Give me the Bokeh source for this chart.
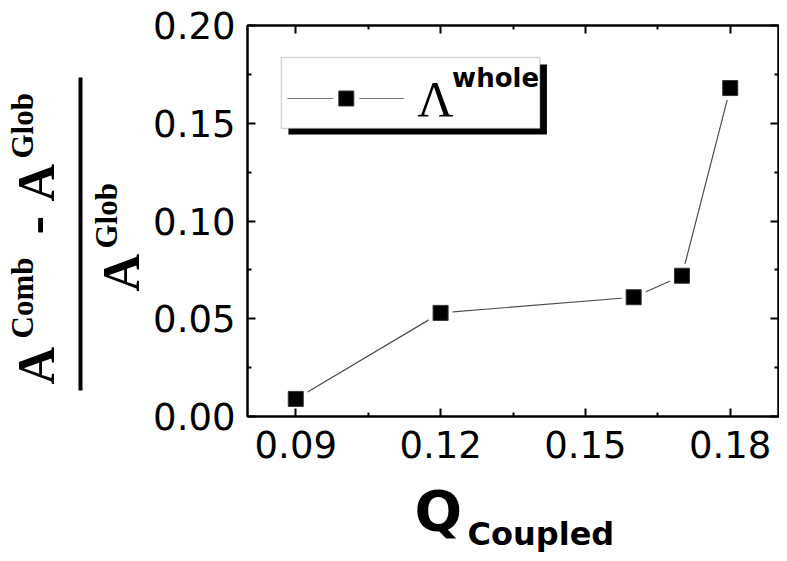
import math
from bokeh.plotting import figure
from bokeh.layouts import column, row
from bokeh.models import (FixedTicker, Label, BoxAnnotation, LinearAxis, Range1d,
                          NumeralTickFormatter)
from bokeh.embed import file_html
from bokeh.resources import INLINE

# ---- data ----
q_coupled = [0.09, 0.12, 0.16, 0.17, 0.18]
lambda_whole = [0.009, 0.053, 0.061, 0.072, 0.168]
x_major = [0.09, 0.12, 0.15, 0.18]
x_minor = [0.105, 0.135, 0.165]
x_labels = ["0.09", "0.12", "0.15", "0.18"]
y_major = [0.0, 0.05, 0.10, 0.15, 0.20]
y_minor = [0.025, 0.075, 0.125, 0.175]
y_labels = ["0.00", "0.05", "0.10", "0.15", "0.20"]

X0, X1 = 0.08, 0.19
Y0, Y1 = 0.0, 0.20

TOTAL_W = 779
LEFT_W = 150          # panel holding the y title
MAIN_H = 475
BOTTOM_H = 80         # panel holding the x title
# frame in page pixels
PL, PR, PT, PB = 246, 778, 25, 416
BASE_SHIFT = 0.37     # label anchor -> baseline offset (em)


def dx(px):
    return X0 + (px - PL) / (PR - PL) * (X1 - X0)


def dy(py):
    return Y0 + (PB - py) / (PB - PT) * (Y1 - Y0)


# ================= main plot =================
p = figure(width=TOTAL_W - LEFT_W, height=MAIN_H,
           x_range=Range1d(X0, X1), y_range=Range1d(Y0, Y1),
           output_backend="svg", toolbar_location=None,
           x_axis_type=None, y_axis_type=None,
           min_border_left=PL - LEFT_W, min_border_right=TOTAL_W - PR,
           min_border_top=PT, min_border_bottom=MAIN_H - PB)
p.grid.visible = False
p.outline_line_color = "black"
p.outline_line_width = 2
p.background_fill_color = "white"
p.border_fill_color = "white"

TICK_FONT = "DejaVu Sans"


def style_axis(ax, show_labels):
    ax.axis_line_color = "black"
    ax.axis_line_width = 2
    ax.major_tick_in = 8
    ax.major_tick_out = 0
    ax.minor_tick_in = 4
    ax.minor_tick_out = 0
    ax.major_tick_line_width = 2
    ax.minor_tick_line_width = 2
    ax.major_tick_line_color = "black"
    ax.minor_tick_line_color = "black"
    if show_labels:
        ax.major_label_text_font = TICK_FONT
        ax.major_label_text_font_size = "37px"
        ax.major_label_text_color = "black"
        ax.major_label_standoff = 12
    else:
        ax.major_label_standoff = 0


xb = LinearAxis(ticker=FixedTicker(ticks=x_major, minor_ticks=x_minor),
                formatter=NumeralTickFormatter(format="0.00"))
xb.major_label_overrides = dict(zip(x_major, x_labels))
style_axis(xb, True)
xb.major_label_standoff = 14
p.add_layout(xb, "below")

yl = LinearAxis(ticker=FixedTicker(ticks=y_major, minor_ticks=y_minor),
                formatter=NumeralTickFormatter(format="0.00"))
yl.major_label_overrides = dict(zip(y_major, y_labels))
style_axis(yl, True)
p.add_layout(yl, "left")

xt = LinearAxis(ticker=FixedTicker(ticks=x_major, minor_ticks=x_minor))
xt.major_label_overrides = {t: "" for t in x_major}
style_axis(xt, False)
p.add_layout(xt, "above")

yr = LinearAxis(ticker=FixedTicker(ticks=y_major, minor_ticks=y_minor))
yr.major_label_overrides = {t: "" for t in y_major}
style_axis(yr, False)
p.add_layout(yr, "right")

# ---- data series ----
p.line(q_coupled, lambda_whole, line_color="#4d4d4d", line_width=1.2)
p.scatter(q_coupled, lambda_whole, marker="square", size=24,
          fill_color="white", line_color=None)
p.scatter(q_coupled, lambda_whole, marker="square", size=15,
          fill_color="black", line_color="#333333", line_width=1)

# ---- legend (drawn by hand) ----
shadow = BoxAnnotation(left=dx(287), right=dx(546), top=dy(64), bottom=dy(134),
                       fill_color="black", fill_alpha=1, line_color=None,
                       level="underlay")
box = BoxAnnotation(left=dx(280), right=dx(539), top=dy(57), bottom=dy(128),
                    fill_color="white", fill_alpha=1, line_color="#777777",
                    line_width=1.5, level="underlay")
p.add_layout(shadow)
p.add_layout(box)
p.line([dx(286), dx(403)], [dy(98), dy(98)], line_color="#777777", line_width=1.2)
p.scatter([dx(345)], [dy(98)], marker="square", size=26,
          fill_color="white", line_color=None)
p.scatter([dx(345)], [dy(98)], marker="square", size=15,
          fill_color="black", line_color="#333333")
p.add_layout(Label(x=dx(416), y=dy(117 - BASE_SHIFT * 50), text="Λ",
                   text_font="Liberation Serif",
                   text_font_size="50px", text_color="black",
                   text_align="left", text_baseline="alphabetic"))
p.add_layout(Label(x=dx(451), y=dy(87 - BASE_SHIFT * 26), text="whole",
                   text_font="DejaVu Sans",
                   text_font_style="bold", text_font_size="26px", text_color="black",
                   text_align="left", text_baseline="alphabetic"))

# ================= y title panel =================
lf = figure(width=LEFT_W, height=MAIN_H, x_range=Range1d(0, LEFT_W),
            y_range=Range1d(PB, PT),
            output_backend="svg", toolbar_location=None,
            x_axis_type=None, y_axis_type=None,
            min_border_left=0, min_border_right=0,
            min_border_top=PT, min_border_bottom=MAIN_H - PB)
lf.grid.visible = False
lf.outline_line_color = None
lf.background_fill_color = "white"
lf.border_fill_color = "white"

SERIF = "Liberation Serif"
ang = math.pi / 2


def rlabel(base_x, start_y, txt, size):
    lf.add_layout(Label(x=base_x - BASE_SHIFT * size, y=start_y, text=txt, angle=ang,
                        text_font=SERIF, text_font_style="bold",
                        text_font_size=f"{size}px",
                        text_color="black", text_align="left",
                        text_baseline="alphabetic"))


rlabel(55, 384, "A", 52)
rlabel(33, 338, "Comb", 31)
rlabel(55, 234, "-", 56)
rlabel(55, 201, "A", 52)
rlabel(33, 158, "Glob", 31)
rlabel(140, 291, "A", 52)
rlabel(117, 248, "Glob", 31)
lf.add_layout(BoxAnnotation(left=78, right=82, top=77, bottom=390,
                            fill_color="black", fill_alpha=1, line_color=None))

# ================= x title panel =================
bf = figure(width=TOTAL_W, height=BOTTOM_H, x_range=Range1d(0, TOTAL_W),
            y_range=Range1d(MAIN_H + BOTTOM_H, MAIN_H),
            output_backend="svg", toolbar_location=None,
            x_axis_type=None, y_axis_type=None,
            min_border_left=0, min_border_right=0, min_border_top=0, min_border_bottom=0)
bf.grid.visible = False
bf.outline_line_color = None
bf.background_fill_color = "white"
bf.border_fill_color = "white"
bf.add_layout(Label(x=414, y=531 - BASE_SHIFT * 56, text="Q", text_font="DejaVu Sans",
                    text_font_style="bold", text_font_size="56px", text_color="black",
                    text_align="left", text_baseline="alphabetic"))
bf.add_layout(Label(x=467, y=545 - BASE_SHIFT * 32, text="Coupled", text_font="DejaVu Sans",
                    text_font_style="bold", text_font_size="32px", text_color="black",
                    text_align="left", text_baseline="alphabetic"))

layout = column(row(lf, p, spacing=0), bf, spacing=0)
open("out.html", "w").write(file_html(layout, INLINE))
